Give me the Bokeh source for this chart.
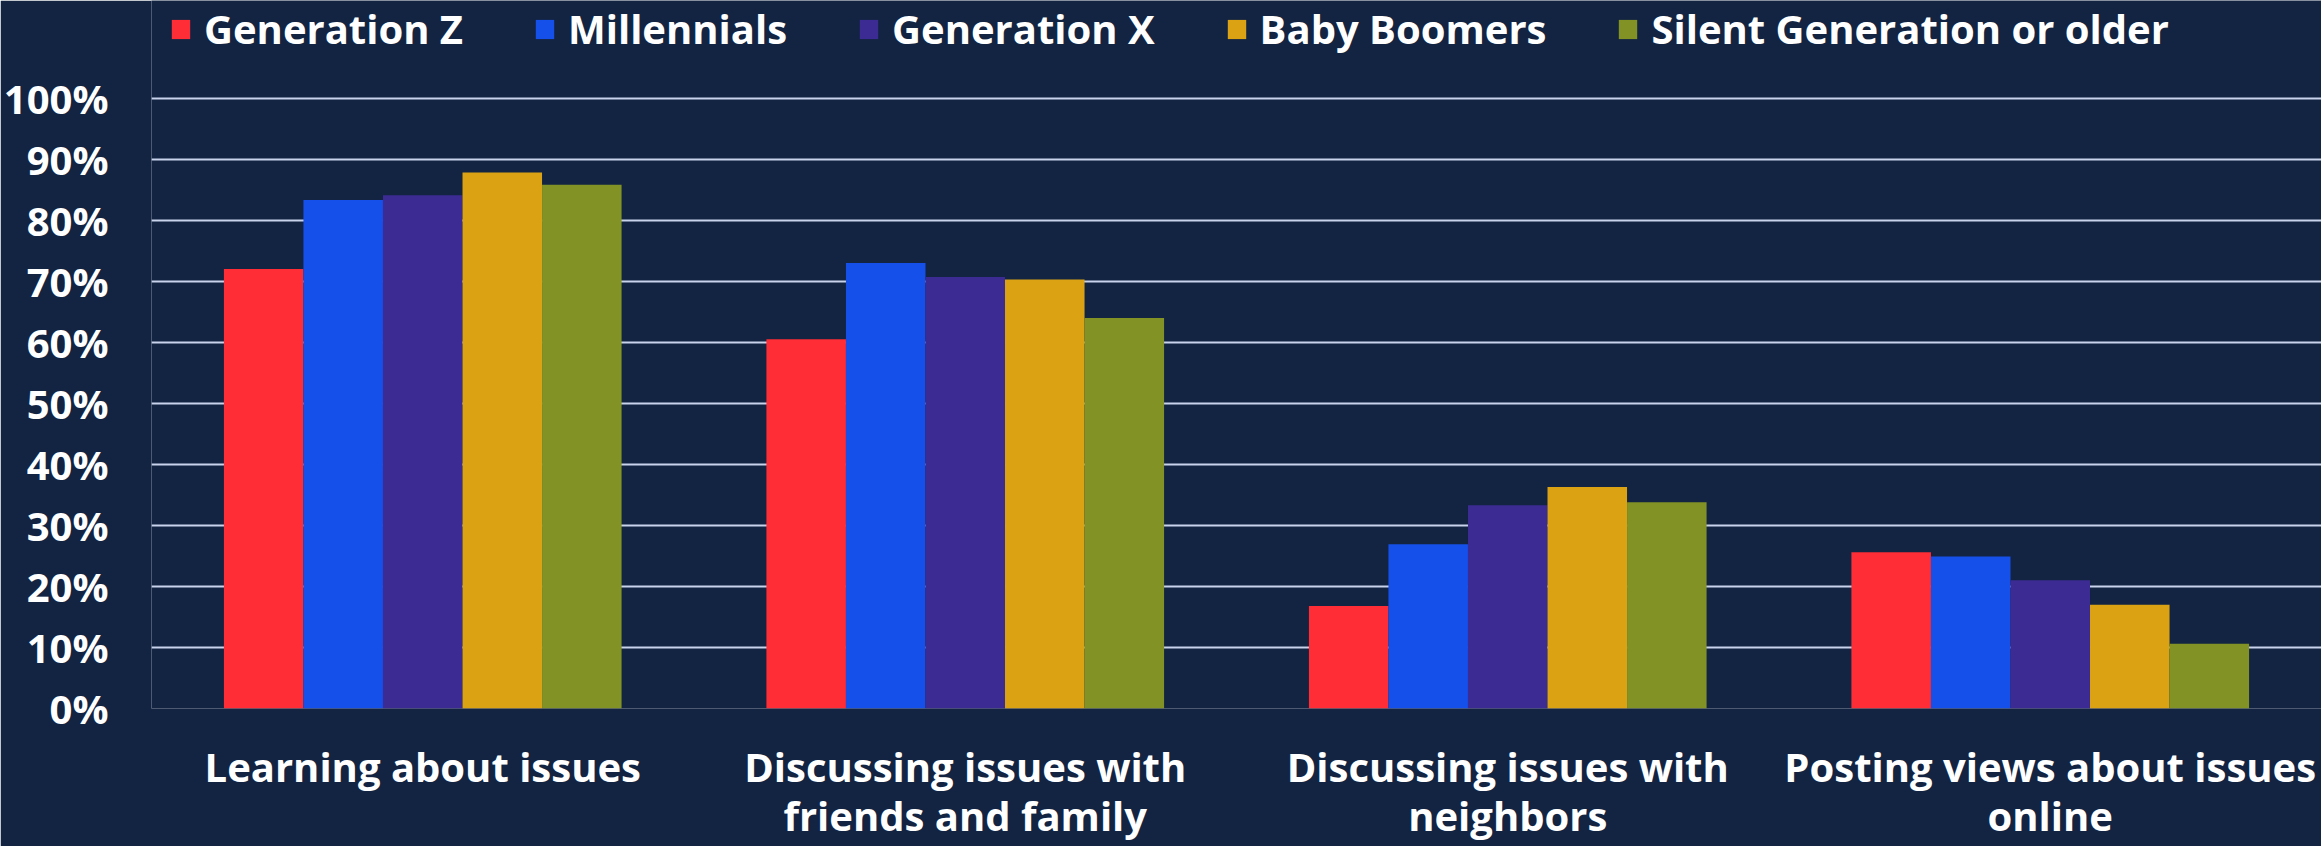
from bokeh.plotting import figure
from bokeh.models import (ColumnDataSource, FactorRange, Range1d, FixedTicker,
                          NumeralTickFormatter, Legend, LegendItem)
from bokeh.transform import dodge
from bokeh.embed import file_html
from bokeh.resources import INLINE

categories = ["Learning about issues",
              "Discussing issues with\nfriends and family",
              "Discussing issues with\nneighbors",
              "Posting views about issues\nonline"]
series_names = ["Generation Z", "Millennials", "Generation X", "Baby Boomers",
                "Silent Generation or older"]
gen_z = [0.72, 0.605, 0.168, 0.256]
millennials = [0.833, 0.73, 0.269, 0.249]
gen_x = [0.841, 0.707, 0.333, 0.21]
baby_boomers = [0.878, 0.703, 0.363, 0.17]
silent = [0.858, 0.64, 0.338, 0.106]
colors = ["#FF2D35", "#1650EA", "#3C2B93", "#DBA314", "#839224"]
y_ticks = [0, 0.1, 0.2, 0.3, 0.4, 0.5, 0.6, 0.7, 0.8, 0.9, 1.0]

BG = "#122442"
FONT = "Open Sans"
FS = "40px"

source = ColumnDataSource(data=dict(cat=categories, s0=gen_z, s1=millennials,
                                    s2=gen_x, s3=baby_boomers, s4=silent))

# headroom above 100% holds the legend (frame spans full height)
p = figure(width=2321, height=846, x_range=FactorRange(*categories),
           y_range=Range1d(0, 1.16), output_backend="svg", toolbar_location=None,
           min_border_left=150, min_border_top=0, min_border_bottom=131,
           min_border_right=0)
p.background_fill_color = BG
p.border_fill_color = BG
p.outline_line_color = None

bw = 0.1466
renderers = []
for i, key in enumerate(["s0", "s1", "s2", "s3", "s4"]):
    r = p.vbar(x=dodge("cat", (i - 2) * bw, range=p.x_range), top=key, width=bw,
               source=source, fill_color=colors[i], line_color=None)
    renderers.append(r)

p.xgrid.grid_line_color = None
p.ygrid.grid_line_color = "#C9D3EC"
p.ygrid.grid_line_width = 2
p.yaxis.ticker = FixedTicker(ticks=y_ticks)
p.yaxis.formatter = NumeralTickFormatter(format="0%")

for ax in (p.xaxis[0], p.yaxis[0]):
    ax.axis_line_color = None
    ax.major_tick_line_color = None
    ax.minor_tick_line_color = None
    ax.major_label_text_color = "white"
    ax.major_label_text_font = FONT
    ax.major_label_text_font_style = "bold"
    ax.major_label_text_font_size = FS
p.xaxis.major_label_text_line_height = 0.9
p.yaxis.major_label_standoff = 37
p.xaxis.major_label_standoff = 24

legend = Legend(items=[LegendItem(label=n, renderers=[r])
                       for n, r in zip(series_names, renderers)],
                orientation="horizontal", location=(18, 652),
                padding=0, margin=0, spacing=70, label_standoff=12,
                glyph_width=23, glyph_height=24,
                label_text_font=FONT, label_text_font_style="bold",
                label_text_font_size=FS, label_text_color="white",
                background_fill_alpha=0, border_line_alpha=0)
p.add_layout(legend)

open("out.html", "w").write(file_html(p, INLINE))
